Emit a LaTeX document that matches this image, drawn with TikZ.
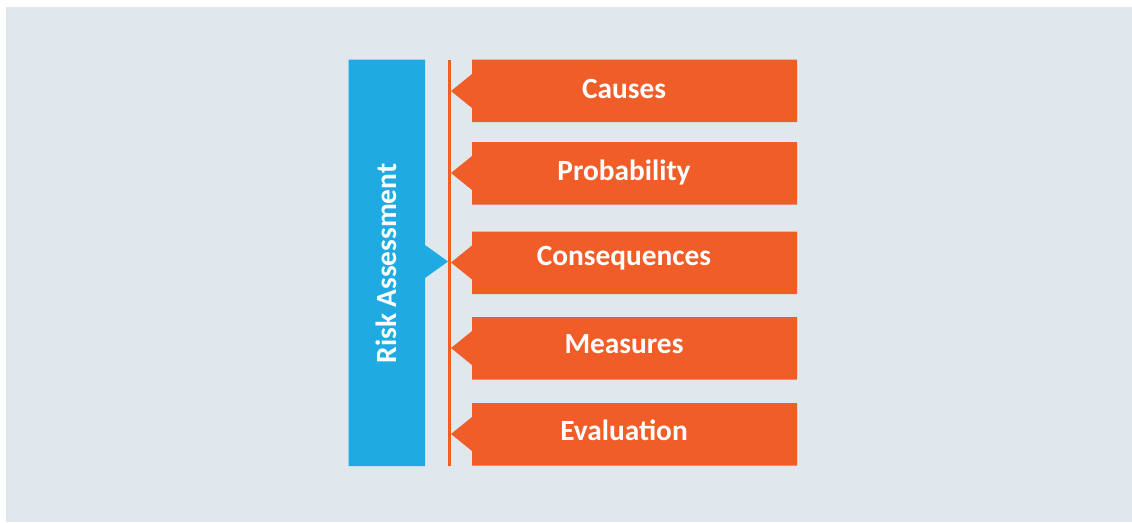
\documentclass[tikz,border=0pt]{standalone}
\usepackage{fontspec}
\setmainfont{Carlito}
\definecolor{bgblue}{RGB}{224,232,238}
\definecolor{riskblue}{RGB}{31,171,226}
\definecolor{stepred}{RGB}{240,93,40}
\begin{document}
\begin{tikzpicture}[x=0.02cm, y=-0.02cm,
    lbl/.style={font=\fontsize{16.7}{20}\selectfont\bfseries, text=white}]
  % Canvas
  \useasboundingbox (0,0) rectangle (1132,522);
  \fill[white] (0,0) rectangle (1132,522);
  \fill[bgblue] (6,7) rectangle (1132,522);

  % Risk assessment bar
  \fill[riskblue] (348.5,59.5) rectangle (425,466)
    (425,245) -- (448,261.5) -- (425,278) -- cycle;
  \node[lbl, rotate=90] (risk) at (386,263.5) {Risk Assessment};

  % Divider
  \fill[stepred] (448,59.5) rectangle (450.5,466);

  % Causes
  \fill[stepred] (472,59.5) rectangle (797,122)
    (472,74) -- (451,91) -- (472,108) -- cycle;
  \node[lbl] (causes) at (624,88.5) {Causes};

  % Probability
  \fill[stepred] (472,142) rectangle (797,204.5)
    (472,156) -- (451,173) -- (472,190) -- cycle;
  \node[lbl] (prob) at (624,172.5) {Probability};

  % Consequences
  \fill[stepred] (472,231.5) rectangle (797,294)
    (472,245.5) -- (451,262.5) -- (472,279.5) -- cycle;
  \node[lbl] (conseq) at (624,258.5) {Consequences};

  % Measures
  \fill[stepred] (472,317) rectangle (797,379.5)
    (472,331) -- (451,348) -- (472,365) -- cycle;
  \node[lbl] (measures) at (624,344.5) {Measures};

  % Evaluation
  \fill[stepred] (472,403) rectangle (797,465.5)
    (472,417) -- (451,434) -- (472,451) -- cycle;
  \node[lbl] (eval) at (624,430.5) {Evaluation};
\end{tikzpicture}
\end{document}
